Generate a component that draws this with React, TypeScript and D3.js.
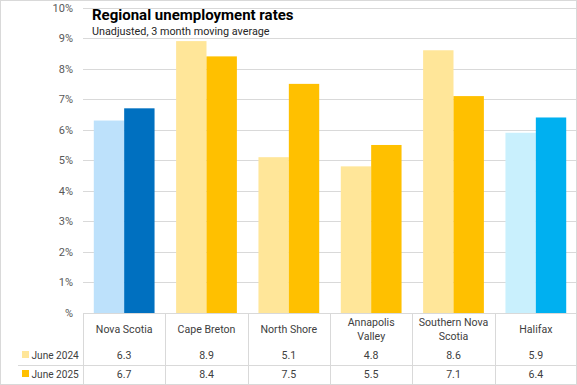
import React, { useEffect, useRef } from "react";
import * as d3 from "d3";

const categories = [
  "Nova Scotia",
  "Cape Breton",
  "North Shore",
  "Annapolis Valley",
  "Southern Nova Scotia",
  "Halifax",
];
const seriesNames = ["June 2024", "June 2025"];
const june2024 = [6.3, 8.9, 5.1, 4.8, 8.6, 5.9];
const june2025 = [6.7, 8.4, 7.5, 5.5, 7.1, 6.4];
const yTicks = [0, 1, 2, 3, 4, 5, 6, 7, 8, 9, 10];
const yTickLabels = ["%", "1%", "2%", "3%", "4%", "5%", "6%", "7%", "8%", "9%", "10%"];

// per-region colours (light = 2024, dark = 2025)
const lightColors = ["#BDE1FB", "#FFE699", "#FFE699", "#FFE699", "#FFE699", "#C9F0FD"];
const darkColors = ["#0070C0", "#FFC000", "#FFC000", "#FFC000", "#FFC000", "#00B0F0"];

const W = 577;
const H = 385;
const FONT = "Roboto, 'Liberation Sans', sans-serif";

const wrapLabel = (s: string) => {
  if (s.length <= 12) return [s];
  const i = s.lastIndexOf(" ");
  return [s.slice(0, i), s.slice(i + 1)];
};

const App = () => {
  const ref = useRef<SVGSVGElement | null>(null);

  useEffect(() => {
    if (!ref.current) return;
    const svg = d3.select(ref.current);
    svg.selectAll("*").remove();

    const plot = { left: 83, right: 577, top: 7.5, bottom: 313 };
    const grid = "#D9D9D9";

    svg
      .append("rect")
      .attr("width", W)
      .attr("height", H)
      .attr("fill", "#fff");

    const x = d3
      .scaleBand<string>()
      .domain(categories)
      .range([plot.left, plot.right]);
    const xInner = d3
      .scaleBand<string>()
      .domain(seriesNames)
      .range([0, x.bandwidth()])
      .paddingInner(0)
      .paddingOuter(0.355);
    const y = d3.scaleLinear().domain([0, 10]).range([plot.bottom, plot.top]);

    // gridlines
    svg
      .append("g")
      .selectAll("line")
      .data(yTicks)
      .enter()
      .append("line")
      .attr("x1", plot.left)
      .attr("x2", plot.right)
      .attr("y1", (d) => Math.round(y(d)) + 0.5)
      .attr("y2", (d) => Math.round(y(d)) + 0.5)
      .attr("stroke", grid)
      .attr("stroke-width", 1);

    // y labels
    svg
      .append("g")
      .selectAll("text")
      .data(yTicks)
      .enter()
      .append("text")
      .attr("x", 73)
      .attr("y", (d) => y(d) + 4)
      .attr("text-anchor", "end")
      .style("font-family", FONT)
      .style("font-size", "11px")
      .style("fill", "#595959")
      .text((_, i) => yTickLabels[i]);

    // bars
    const values = [june2024, june2025];
    const bars = svg.append("g");
    values.forEach((vals, si) => {
      bars
        .selectAll(`.bar-${si}`)
        .data(vals)
        .enter()
        .append("rect")
        .attr("class", `bar-${si}`)
        .attr("x", (_, i) => (x(categories[i]) || 0) + (xInner(seriesNames[si]) || 0))
        .attr("width", xInner.bandwidth())
        .attr("y", (d) => y(d))
        .attr("height", (d) => y(0) - y(d))
        .attr("fill", (_, i) => (si === 0 ? lightColors[i] : darkColors[i]));
    });

    // axis line
    svg
      .append("line")
      .attr("x1", plot.left)
      .attr("x2", plot.right)
      .attr("y1", Math.round(y(0)) + 0.5)
      .attr("y2", Math.round(y(0)) + 0.5)
      .attr("stroke", grid);

    // data table
    const table = svg.append("g");
    const bounds = categories.map((c) => x(c) || 0).concat([plot.right]);
    table
      .selectAll("line.v")
      .data(bounds)
      .enter()
      .append("line")
      .attr("class", "v")
      .attr("x1", (d) => Math.round(d) + 0.5)
      .attr("x2", (d) => Math.round(d) + 0.5)
      .attr("y1", Math.round(y(0)))
      .attr("y2", H)
      .attr("stroke", grid);
    table
      .append("line")
      .attr("x1", 18)
      .attr("x2", plot.right)
      .attr("y1", 365.5)
      .attr("y2", 365.5)
      .attr("stroke", grid);

    const txt = (g: d3.Selection<SVGTextElement, unknown, null, undefined>, size = 10.6) =>
      g
        .style("font-family", FONT)
        .style("font-size", `${size}px`)
        .style("fill", "#404040");

    categories.forEach((c, i) => {
      const cx = (x(c) || 0) + x.bandwidth() / 2;
      const lines = wrapLabel(c);
      const t = table.append("text").attr("text-anchor", "middle");
      txt(t as any);
      lines.forEach((l, li) => {
        t.append("tspan")
          .attr("x", cx)
          .attr("y", lines.length === 1 ? 333 : 326 + li * 13.5)
          .text(l);
      });
      values.forEach((vals, si) => {
        const v = table
          .append("text")
          .attr("x", cx)
          .attr("y", 359 + si * 19)
          .attr("text-anchor", "middle")
          .text(vals[i].toFixed(1));
        txt(v as any);
      });
    });

    // legend keys in table
    seriesNames.forEach((s, si) => {
      table
        .append("rect")
        .attr("x", 22)
        .attr("y", 351 + si * 19)
        .attr("width", 7)
        .attr("height", 7)
        .attr("fill", si === 0 ? lightColors[1] : darkColors[1]);
      const t = table
        .append("text")
        .attr("x", 31.5)
        .attr("y", 359 + si * 19)
        .text(s);
      txt(t as any, 10.1);
    });

    // title
    svg
      .append("text")
      .attr("x", 92)
      .attr("y", 20)
      .style("font-family", FONT)
      .style("font-size", "15px")
      .style("font-weight", "bold")
      .style("fill", "#000")
      .text("Regional unemployment rates");
    svg
      .append("text")
      .attr("x", 92)
      .attr("y", 35)
      .style("font-family", FONT)
      .style("font-size", "10.8px")
      .style("fill", "#262626")
      .text("Unadjusted, 3 month moving average");

    // chart border
    svg
      .append("rect")
      .attr("x", 0.5)
      .attr("y", 0.5)
      .attr("width", W - 1)
      .attr("height", H - 1)
      .attr("fill", "none")
      .attr("stroke", grid);
  }, []);

  return (
    <svg
      ref={ref}
      width={W}
      height={H}
      style={{ position: "absolute", left: 0, top: 0 }}
    />
  );
};

export default App;
